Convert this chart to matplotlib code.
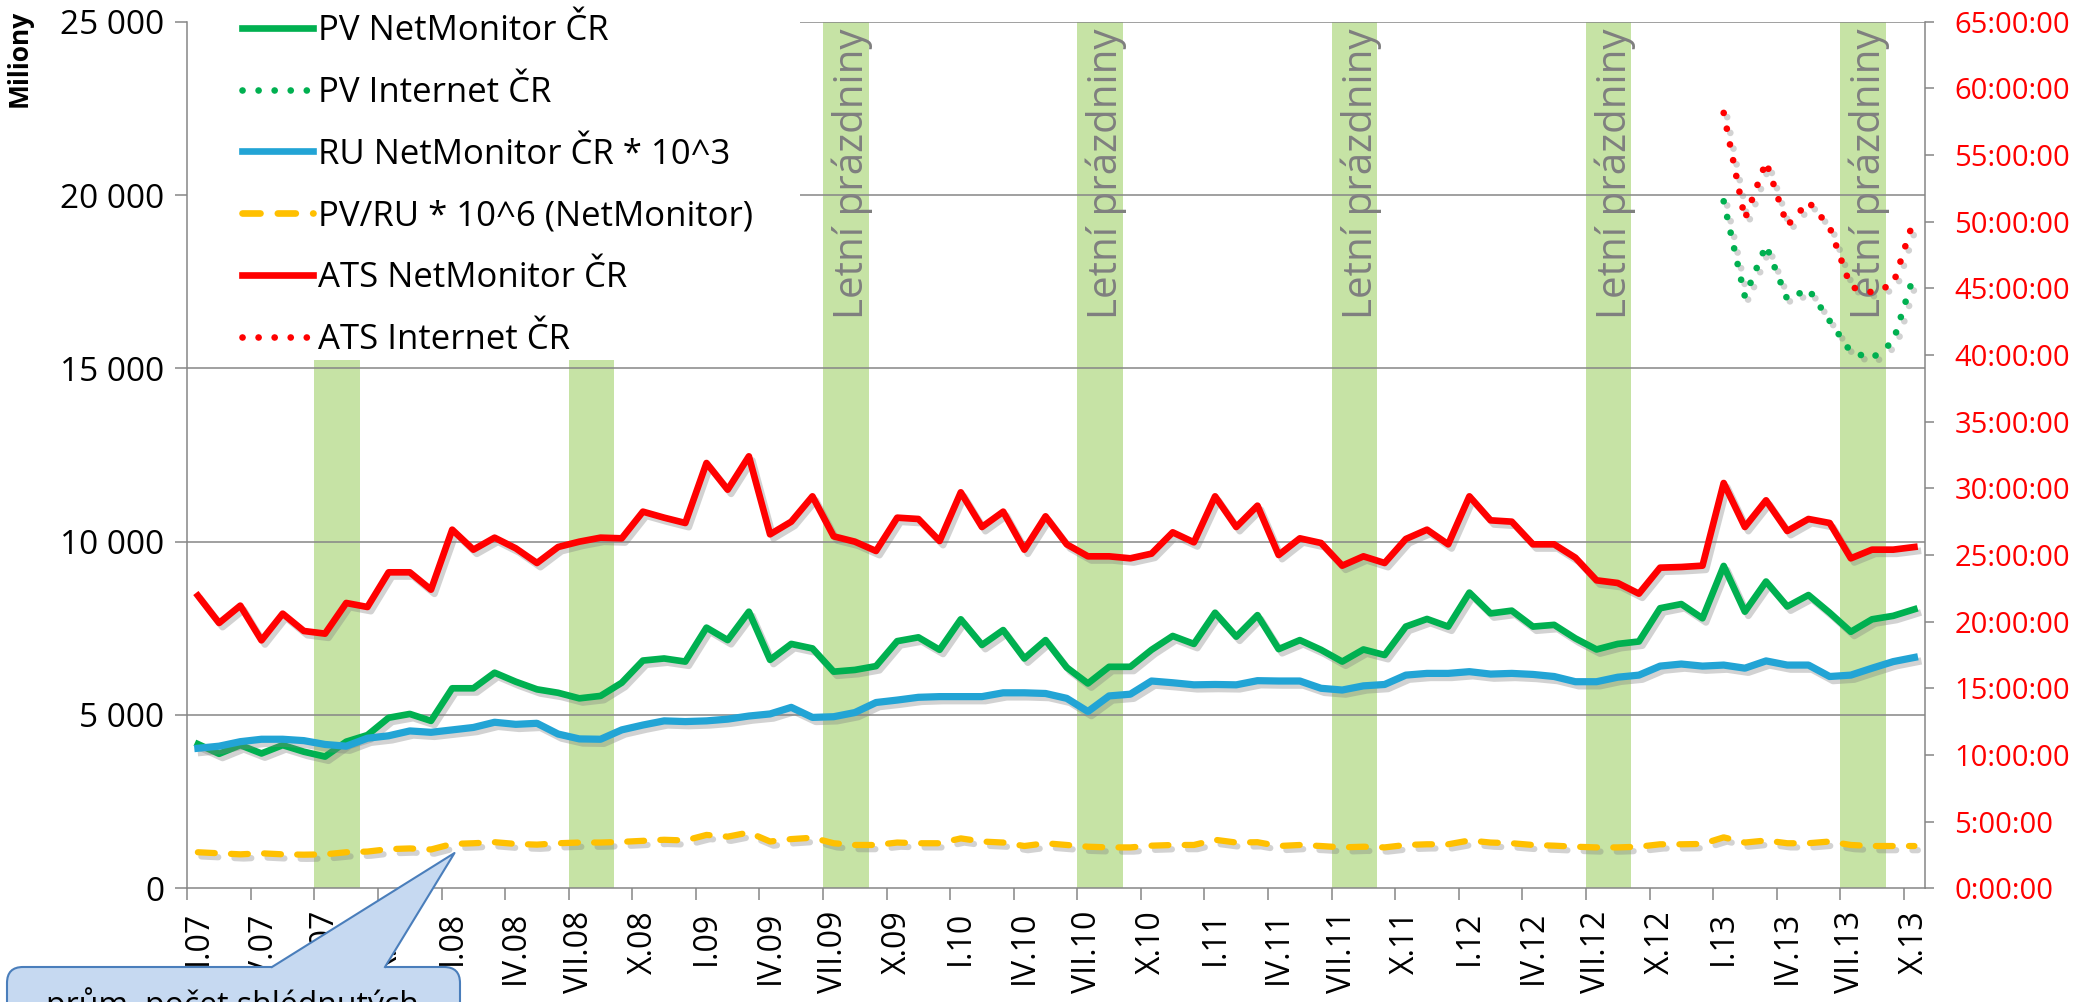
import matplotlib
matplotlib.use("Agg")
import matplotlib.pyplot as plt
import matplotlib.patheffects as pe
from matplotlib.lines import Line2D
from matplotlib.patches import Rectangle, FancyBboxPatch, Polygon
from matplotlib.ticker import FuncFormatter
from matplotlib.transforms import IdentityTransform
import numpy as np

plt.rcParams['font.family'] = ['Open Sans', 'DejaVu Sans']

# monthly data I.07 .. X.13 (82 months)
tick_labels = ['I.07', 'IV.07', 'VII.07', 'X.07', 'I.08', 'IV.08', 'VII.08', 'X.08',
               'I.09', 'IV.09', 'VII.09', 'X.09', 'I.10', 'IV.10', 'VII.10', 'X.10',
               'I.11', 'IV.11', 'VII.11', 'X.11', 'I.12', 'IV.12', 'VII.12', 'X.12',
               'I.13', 'IV.13', 'VII.13', 'X.13']

pv_netmonitor = [4160, 3880, 4130, 3890, 4130, 3940, 3800, 4230, 4420, 4920, 5030, 4830,
                 5770, 5770, 6220, 5960, 5740, 5640, 5480, 5550, 5930, 6570, 6630, 6540,
                 7520, 7160, 7980, 6590, 7050, 6920, 6250, 6300, 6410, 7130, 7240, 6880,
                 7760, 7020, 7450, 6630, 7160, 6370, 5910, 6390, 6390, 6880, 7280, 7050,
                 7950, 7260, 7880, 6900, 7160, 6880, 6540, 6890, 6730, 7550, 7770, 7550,
                 8530, 7930, 8010, 7550, 7600, 7210, 6890, 7050, 7120, 8080, 8200, 7790,
                 9300, 7980, 8850, 8130, 8460, 7950, 7400, 7760, 7860, 8050]

ru_netmonitor = [4040, 4100, 4230, 4300, 4300, 4260, 4150, 4100, 4330, 4400, 4540, 4500,
                 4570, 4640, 4790, 4730, 4760, 4450, 4310, 4300, 4570, 4710, 4830, 4810,
                 4830, 4880, 4970, 5030, 5220, 4930, 4950, 5070, 5360, 5430, 5510, 5530,
                 5530, 5530, 5640, 5640, 5620, 5480, 5100, 5550, 5600, 5980, 5930, 5870,
                 5880, 5870, 5990, 5980, 5980, 5770, 5720, 5840, 5880, 6150, 6200, 6200,
                 6250, 6180, 6200, 6170, 6110, 5960, 5960, 6090, 6150, 6410, 6470, 6410,
                 6440, 6350, 6560, 6440, 6440, 6110, 6150, 6350, 6540, 6660]

pv_per_ru = [1040, 1010, 980, 1010, 980, 970, 980, 1040, 1060, 1130, 1150, 1120,
             1280, 1300, 1330, 1280, 1260, 1300, 1320, 1320, 1340, 1370, 1400, 1380,
             1540, 1490, 1610, 1350, 1420, 1460, 1300, 1250, 1250, 1320, 1300, 1300,
             1440, 1350, 1320, 1220, 1300, 1250, 1200, 1180, 1180, 1230, 1250, 1250,
             1400, 1320, 1330, 1220, 1250, 1220, 1180, 1200, 1180, 1250, 1270, 1270,
             1380, 1320, 1300, 1250, 1230, 1200, 1180, 1180, 1200, 1270, 1270, 1280,
             1470, 1320, 1380, 1300, 1300, 1350, 1250, 1220, 1220, 1220]

# hours
ats_netmonitor = [21.95, 19.9, 21.2, 18.6, 20.6, 19.3, 19.1, 21.4, 21.1, 23.7, 23.7, 22.4,
                  26.9, 25.4, 26.3, 25.5, 24.4, 25.6, 26.0, 26.3, 26.25, 28.25, 27.8, 27.4,
                  31.9, 29.9, 32.4, 26.55, 27.5, 29.4, 26.4, 26.0, 25.3, 27.8, 27.7, 26.05,
                  29.7, 27.1, 28.25, 25.4, 27.9, 25.8, 24.9, 24.9, 24.75, 25.1, 26.7, 25.95,
                  29.4, 27.1, 28.7, 25.0, 26.25, 25.9, 24.2, 24.9, 24.4, 26.2, 26.9, 25.8,
                  29.4, 27.6, 27.5, 25.8, 25.8, 24.8, 23.1, 22.9, 22.1, 24.05, 24.1, 24.2,
                  30.4, 27.1, 29.1, 26.8, 27.7, 27.4, 24.75, 25.4, 25.4, 25.6]

# internet series from I.13
pv_internet = [19820, 17070, 18550, 16990, 17290, 16370, 15470, 15290, 15770, 17740]
ats_internet = [58.16, 50.2, 54.5, 49.7, 51.5, 49.6, 45.1, 44.7, 45.3, 50.3]

july_months = [6, 18, 30, 42, 54, 66, 78]

months = np.arange(len(pv_netmonitor))
internet_months = months[-len(pv_internet):]

W, H = 2080, 1002
GREEN, BLUE, YELLOW, RED = '#00b050', '#22a4d5', '#ffc000', '#ff0000'
GREY = '#868686'
dots = (0, (0.01, 2.4))
dashes = (0, (2.7, 2.6))
shadow = [pe.SimpleLineShadow(offset=(2.5, -3), shadow_color='#7f7f7f', alpha=0.35), pe.Normal()]
legend_right = 28.4  # x (in months) where the white legend area ends

fig = plt.figure(figsize=(W / 100, H / 100), dpi=100)
ax = fig.add_axes([0.09005, 0.11347, 0.83543, 0.86487])
ax2 = ax.twinx()

ax.set_xlim(-0.5, len(months) - 0.5)
ax.set_ylim(0, 25000)
ax2.set_ylim(0, 65)

for m in july_months:
    ax.axvspan(m - 0.5, m + 1.65, color='#c6e3a5', lw=0, zorder=0.5)
    if m - 0.5 > legend_right:
        ax.text(m + 0.88, 24800, 'Letní prázdniny', rotation=90, ha='center', va='top',
                color='#7f7f7f', fontsize=29, zorder=0.8)

for v in range(5000, 25001, 5000):
    ax.axhline(v, color=GREY, lw=1.1, zorder=1)

# white area behind the legend
ax.add_patch(Rectangle((-0.5, 15250), legend_right + 0.5, 10000, facecolor='white',
                       edgecolor='none', zorder=1.5))

ax.plot(months, pv_netmonitor, color=GREEN, lw=4.8, solid_joinstyle='round', zorder=3, path_effects=shadow)
ax.plot(internet_months, pv_internet, color=GREEN, lw=4.8, ls=dots, dash_capstyle='round', zorder=3, path_effects=shadow)
ax.plot(months, ru_netmonitor, color=BLUE, lw=5.2, solid_joinstyle='round', zorder=3, path_effects=shadow)
ax.plot(months, pv_per_ru, color=YELLOW, lw=4.5, ls=dashes, dash_capstyle='round', zorder=3, path_effects=shadow)
ax2.plot(months, ats_netmonitor, color=RED, lw=4.8, solid_joinstyle='round', zorder=3, path_effects=shadow)
ax2.plot(internet_months, ats_internet, color=RED, lw=4.8, ls=dots, dash_capstyle='round', zorder=3, path_effects=shadow)

for s in ['top', 'right']:
    ax.spines[s].set_visible(False)
for s in ['top', 'left', 'bottom']:
    ax2.spines[s].set_visible(False)
for sp in [ax.spines['left'], ax.spines['bottom'], ax2.spines['right']]:
    sp.set_color(GREY)
    sp.set_linewidth(1.1)

ax.set_yticks(range(0, 25001, 5000))
ax.yaxis.set_major_formatter(FuncFormatter(lambda v, _: f"{int(v):,}".replace(',', ' ')))
ax.tick_params(axis='y', direction='out', length=8.4, width=1.1, color=GREY, pad=8, labelsize=24)

ax2.set_yticks(range(0, 66, 5))
ax2.yaxis.set_major_formatter(FuncFormatter(lambda v, _: f"{int(v)}:00:00"))
ax2.tick_params(axis='y', direction='out', length=6.7, width=1.1, color=GREY, pad=14.4,
                labelsize=21, labelcolor=RED)

bounds = np.arange(-0.5, len(months) - 1, 3)
ax.set_xticks(bounds, [''] * len(bounds))
ax.set_xticks(months[::3], tick_labels, minor=True)
ax.tick_params(axis='x', which='major', direction='out', length=8.6, width=1.1, color=GREY)
ax.tick_params(axis='x', which='minor', length=0, pad=16, labelsize=23, labelrotation=90)

fig.text(19 / W, 1 - 58 / H, 'Miliony', rotation=90, ha='center', va='center',
         fontsize=19, fontweight='bold')

handles = [
    Line2D([], [], color=GREEN, lw=4.8),
    Line2D([], [], color=GREEN, lw=4.8, ls=dots, dash_capstyle='round'),
    Line2D([], [], color=BLUE, lw=4.8),
    Line2D([], [], color=YELLOW, lw=4.8, ls=dashes, dash_capstyle='round'),
    Line2D([], [], color=RED, lw=4.8),
    Line2D([], [], color=RED, lw=4.8, ls=dots, dash_capstyle='round'),
]
labels = ['PV NetMonitor ČR', 'PV Internet ČR', 'RU NetMonitor ČR * 10^3',
          'PV/RU * 10^6 (NetMonitor)', 'ATS NetMonitor ČR', 'ATS Internet ČR']
fig.legend(handles, labels, loc='upper left', bbox_to_anchor=(241.5 / W, 1 - 14 / H),
           frameon=False, fontsize=25, handlelength=2.05, handletextpad=0.15,
           labelspacing=0.8, borderpad=0, borderaxespad=0)

# callout at the bottom left (pixel coordinates)
callout_face, callout_edge = '#c6d9f1', '#4a7ebb'
px = IdentityTransform()
fig.add_artist(FancyBboxPatch((7, H - 1060), 453, 93, boxstyle='round,pad=0,rounding_size=16',
                              transform=px, facecolor=callout_face, edgecolor=callout_edge,
                              lw=1.5, zorder=10))
tip = (454.5, H - 853)
base_l, base_r = (272, H - 967), (385, H - 967)
fig.add_artist(Polygon([tip, base_r, (base_r[0], base_r[1] - 6), (base_l[0], base_l[1] - 6), base_l],
                       closed=True, transform=px, facecolor=callout_face, edgecolor='none', zorder=11))
fig.add_artist(Line2D([base_l[0], tip[0], base_r[0]], [base_l[1], tip[1], base_r[1]],
                      transform=px, color=callout_edge, lw=1.5, zorder=12))
fig.text(232 / W, 1 - 987 / H, 'prům. počet shlédnutých', ha='center', va='top',
         fontsize=23, zorder=13)

fig.savefig('out.png', dpi=100)
